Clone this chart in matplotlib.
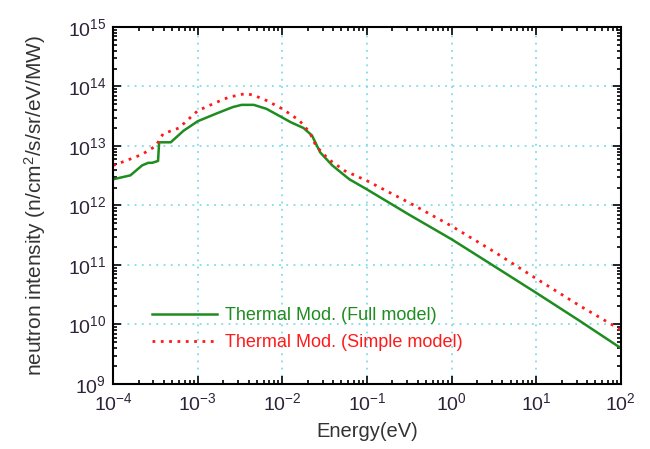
import matplotlib
matplotlib.use("Agg")
import matplotlib.pyplot as plt
from matplotlib.ticker import LogLocator, FuncFormatter, NullFormatter
import numpy as np

plt.rcParams['font.family'] = ['Liberation Sans', 'DejaVu Sans']

# Thermal moderator, full model
e_full = [1.0e-4, 1.6e-4, 2.2e-4, 2.6e-4, 2.9e-4, 3.4e-4, 3.5e-4, 4.8e-4, 6.8e-4,
          1.0e-3, 1.66e-3, 2.6e-3, 3.3e-3, 4.6e-3, 6.5e-3, 1.0e-2, 1.26e-2, 1.78e-2,
          2.24e-2, 2.8e-2, 3.9e-2, 6.2e-2, 0.1, 0.32, 1.0, 3.2, 10, 32, 100]
i_full = [2.75e12, 3.2e12, 4.7e12, 5.2e12, 5.2e12, 5.6e12, 1.15e13, 1.15e13, 1.8e13,
          2.6e13, 3.5e13, 4.5e13, 4.9e13, 4.9e13, 4.2e13, 3.0e13, 2.5e13, 2.0e13,
          1.5e13, 7.8e12, 4.7e12, 2.75e12, 1.86e12, 6.9e11, 2.7e11, 9.5e10, 3.4e10,
          1.17e10, 4.0e9]

# Thermal moderator, simple model
e_simple = [1.0e-4, 1.4e-4, 2.2e-4, 3.2e-4, 3.9e-4, 6.0e-4, 1.0e-3, 1.66e-3, 2.34e-3,
            3.7e-3, 4.6e-3, 6.5e-3, 1.0e-2, 1.58e-2, 2.1e-2, 2.5e-2, 3.5e-2, 5.5e-2,
            0.1, 0.32, 1.0, 3.2, 10, 32, 100]
i_simple = [4.7e12, 5.6e12, 7.2e12, 1.0e13, 1.6e13, 2.0e13, 3.9e13, 5.4e13, 6.6e13,
            7.6e13, 7.1e13, 5.8e13, 4.2e13, 2.7e13, 1.7e13, 1.0e13, 6.0e12, 3.8e12,
            2.6e12, 1.1e12, 4.5e11, 1.66e11, 5.9e10, 2.1e10, 8.1e9]

x_ticks = [1e-4, 1e-3, 1e-2, 1e-1, 1e0, 1e1, 1e2]
y_ticks = [1e9, 1e10, 1e11, 1e12, 1e13, 1e14, 1e15]

labels = ['Thermal Mod. (Full model)', 'Thermal Mod. (Simple model)']
green = '#1e8c1e'
red = '#ff1a1a'

fig = plt.figure(figsize=(6.5, 4.49), dpi=100)
ax = fig.add_axes([0.174, 0.145, 0.781, 0.795])

ax.plot(e_full, i_full, color=green, lw=1.8, label=labels[0])
ax.plot(e_simple, i_simple, color=red, lw=2.0, ls=(0, (1, 2)), label=labels[1])

ax.set_xscale('log')
ax.set_yscale('log')
ax.set_xticks(x_ticks)
ax.set_yticks(y_ticks)
ax.set_xlim(1e-4, 1e2)
ax.set_ylim(1e9, 1e15)

fmt = FuncFormatter(lambda v, p: r'$\mathregular{10^{%d}}$' % round(np.log10(v)))
for a in (ax.xaxis, ax.yaxis):
    a.set_minor_locator(LogLocator(base=10, subs=np.arange(2, 10), numticks=20))
    a.set_major_formatter(fmt)
    a.set_minor_formatter(NullFormatter())

ax.tick_params(which='both', direction='in', top=True, right=True,
               labelsize=14, labelcolor='#2e2238', width=1.2)
ax.tick_params(which='major', length=6)
ax.tick_params(which='minor', length=3)
ax.tick_params(axis='x', pad=6)
ax.tick_params(axis='y', pad=5)

for s in ax.spines.values():
    s.set_linewidth(1.5)

ax.grid(True, which='major', color='#7fdcec', ls=(0, (1, 3)), lw=1.3)

ax.set_xlabel('Energy(eV)', fontsize=14.5, color='#333333', labelpad=6)
ax.set_ylabel(r'neutron intensity (n/cm$\mathregular{^2}$/s/sr/eV/MW)', fontsize=15,
              color='#333333', labelpad=14)

leg = ax.legend(loc='upper left', bbox_to_anchor=(0.077, 0.215), frameon=False,
                borderpad=0, borderaxespad=0, fontsize=13, handlelength=3.6,
                handletextpad=0.45, labelspacing=0.55)
for t, c in zip(leg.get_texts(), [green, red]):
    t.set_color(c)

fig.savefig('out.png', dpi=100)
